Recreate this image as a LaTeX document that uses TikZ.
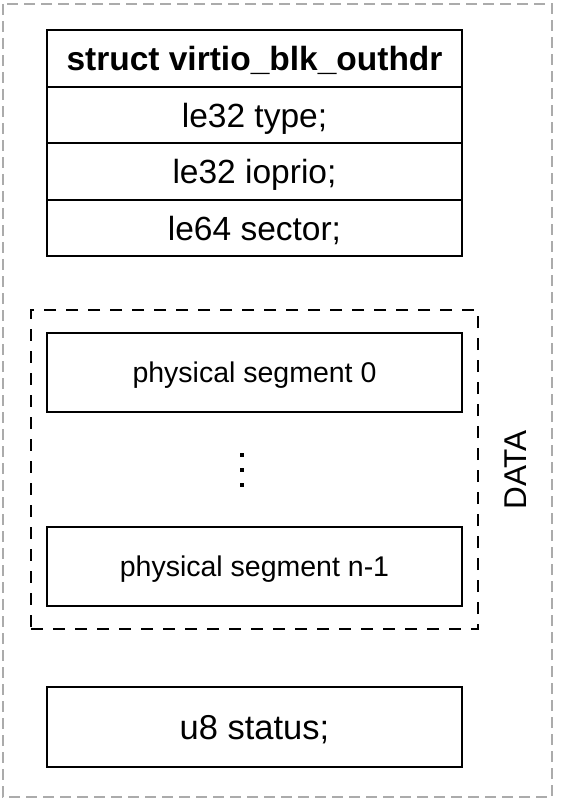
\documentclass[tikz,border=0pt]{standalone}
\usepackage{fontspec}
\setmainfont{Liberation Sans}
\usetikzlibrary{positioning,fit}

\begin{document}
\begin{tikzpicture}[x=1pt, y=-1pt, node distance=0pt,
    field/.style={draw, line width=2pt, outer sep=0pt, minimum width=415pt,
      minimum height=56.5pt, text height=24pt, text depth=0pt,
      font=\fontsize{33.5}{36}\selectfont},
    segbox/.style={field, minimum height=79pt, text height=20.5pt,
      font=\fontsize{28.5}{30}\selectfont},
    group/.style={draw, dashed, line width=2pt, dash pattern=on 12pt off 10pt}]
  \useasboundingbox (0,0) rectangle (572,799);
  % outer frame
  \draw[line width=2.4pt, color=black!33, dash pattern=on 11pt off 6pt] (3,4) rectangle (552,797);
  % header struct
  \node[field, minimum height=57pt, font=\bfseries\fontsize{33.5}{36}\selectfont] (hdr) at (254.5,58.5) {struct virtio\_blk\_outhdr};
  \node[field, below=of hdr] (type) {le32 type;};
  \node[field, below=of type] (ioprio) {le32 ioprio;};
  \node[field, below=of ioprio] (sector) {le64 sector;};
  % data segments
  \node[segbox] (seg0) at (254.5,372.5) {physical segment 0};
  \node[segbox] (segn) at (254.5,566.5) {physical segment n-1};
  \foreach \i in {0,1,2} {
    \node[fill, inner sep=0pt, minimum size=4pt] (dot\i) at (242,455+15*\i) {};
  }
  \node[group, fit=(seg0)(segn), inner xsep=16pt, inner ysep=23pt] (data) {};
  \node[rotate=90, font=\fontsize{31.5}{34}\selectfont] (datalbl) at (516,470) {DATA};
  % status byte
  \node[field, minimum height=80pt, text height=24.7pt,
    font=\fontsize{34.5}{37}\selectfont] (status) at (254.5,727) {u8 status;};
\end{tikzpicture}
\end{document}
